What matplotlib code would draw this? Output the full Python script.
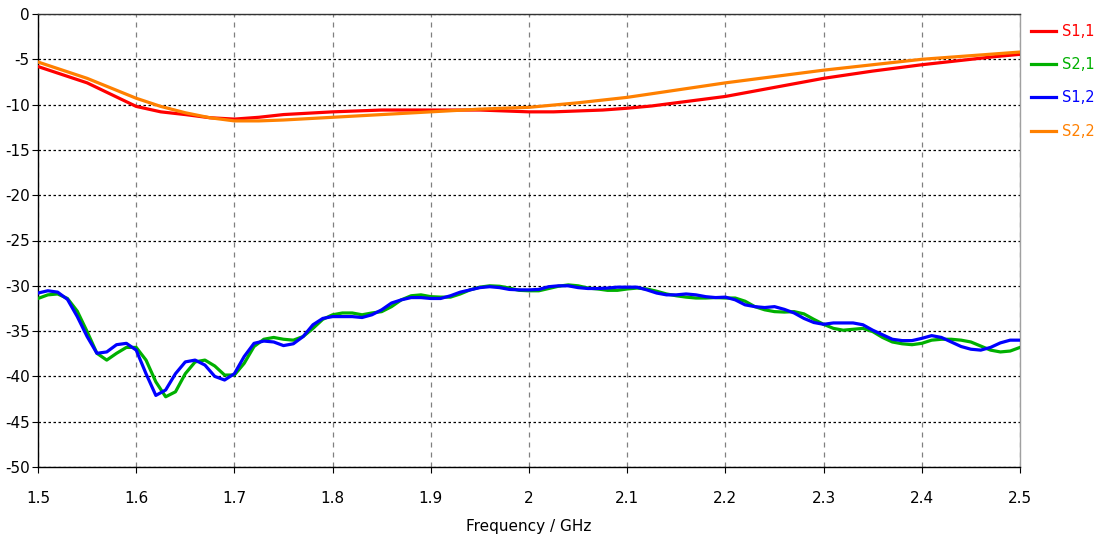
import numpy as np
import matplotlib
matplotlib.use("Agg")
import matplotlib.pyplot as plt
from matplotlib.lines import Line2D

# ---- data ----
f_coarse = [1.500, 1.525, 1.550, 1.575, 1.600, 1.625, 1.650, 1.675, 1.700, 1.725,
            1.750, 1.775, 1.800, 1.825, 1.850, 1.875, 1.900, 1.925, 1.950, 1.975,
            2.000, 2.025, 2.050, 2.075, 2.100, 2.125, 2.150, 2.175, 2.200, 2.225,
            2.250, 2.275, 2.300, 2.325, 2.350, 2.375, 2.400, 2.425, 2.450, 2.475,
            2.500]
s11 = [-5.8, -6.7, -7.6, -8.9, -10.2, -10.8, -11.1, -11.45, -11.6, -11.4,
       -11.1, -10.95, -10.8, -10.7, -10.6, -10.6, -10.6, -10.6, -10.6, -10.7,
       -10.8, -10.8, -10.7, -10.6, -10.4, -10.15, -9.8, -9.45, -9.1, -8.6,
       -8.1, -7.6, -7.1, -6.7, -6.3, -5.95, -5.6, -5.3, -5.0, -4.7,
       -4.45]
s22 = [-5.3, -6.2, -7.1, -8.2, -9.3, -10.2, -10.9, -11.45, -11.8, -11.8,
       -11.7, -11.55, -11.4, -11.25, -11.1, -10.95, -10.8, -10.65, -10.5, -10.4,
       -10.3, -10.05, -9.8, -9.5, -9.2, -8.8, -8.4, -8.0, -7.6, -7.25,
       -6.9, -6.55, -6.2, -5.9, -5.6, -5.3, -5.0, -4.8, -4.6, -4.4,
       -4.2]

f_fine = [round(1.5 + 0.01 * i, 2) for i in range(101)]
s21 = [-31.4, -31.0, -30.9, -31.4, -32.8, -35.05, -37.45, -38.2, -37.45, -36.8,
       -36.8, -38.2, -40.6, -42.25, -41.7, -39.7, -38.4, -38.2, -38.85, -39.85,
       -39.85, -38.55, -36.7, -35.9, -35.7, -35.9, -36.0, -35.6, -34.7, -33.7,
       -33.2, -33.0, -33.0, -33.2, -33.0, -32.85, -32.3, -31.55, -31.1, -31.0,
       -31.2, -31.25, -31.25, -30.9, -30.45, -30.15, -30.0, -30.05, -30.25, -30.5,
       -30.55, -30.55, -30.3, -30.05, -29.9, -30.0, -30.25, -30.35, -30.5, -30.5,
       -30.35, -30.25, -30.35, -30.6, -30.9, -31.1, -31.25, -31.35, -31.35, -31.3,
       -31.35, -31.35, -31.7, -32.3, -32.65, -32.85, -32.9, -32.85, -33.1, -33.7,
       -34.25, -34.7, -34.9, -34.8, -34.7, -35.05, -35.7, -36.2, -36.4, -36.5,
       -36.35, -36.0, -35.9, -35.9, -36.0, -36.2, -36.65, -37.1, -37.3, -37.2,
       -36.8]
s12 = [-30.8, -30.55, -30.7, -31.5, -33.4, -35.6, -37.45, -37.3, -36.5, -36.35,
       -37.1, -39.7, -42.1, -41.5, -39.7, -38.4, -38.2, -38.75, -40.0, -40.4,
       -39.7, -37.8, -36.35, -36.1, -36.2, -36.6, -36.4, -35.6, -34.3, -33.6,
       -33.4, -33.4, -33.4, -33.5, -33.2, -32.65, -31.9, -31.55, -31.3, -31.3,
       -31.4, -31.4, -31.1, -30.7, -30.45, -30.2, -30.1, -30.2, -30.4, -30.45,
       -30.45, -30.4, -30.1, -30.0, -30.0, -30.2, -30.3, -30.3, -30.25, -30.15,
       -30.15, -30.15, -30.45, -30.8, -31.0, -31.0, -30.9, -31.0, -31.2, -31.3,
       -31.25, -31.55, -32.1, -32.3, -32.4, -32.3, -32.6, -33.0, -33.6, -34.05,
       -34.25, -34.1, -34.1, -34.1, -34.3, -34.9, -35.4, -35.9, -36.05, -36.05,
       -35.8, -35.5, -35.7, -36.2, -36.7, -37.0, -37.1, -36.8, -36.3, -36.0,
       -36.0]

labels = ["S1,1", "S2,1", "S1,2", "S2,2"]
colors = ["#ff0000", "#00b000", "#0000ff", "#ff8000"]
xticks = [1.5, 1.6, 1.7, 1.8, 1.9, 2.0, 2.1, 2.2, 2.3, 2.4, 2.5]
xticklabels = ["1.5", "1.6", "1.7", "1.8", "1.9", "2", "2.1", "2.2", "2.3", "2.4", "2.5"]
yticks = [0, -5, -10, -15, -20, -25, -30, -35, -40, -45, -50]

plt.rcParams['font.family'] = ['DejaVu Sans']

fig = plt.figure(figsize=(10.98, 5.42), dpi=100)
ax = fig.add_axes([38 / 1098, 1 - 467 / 542, (1020 - 38) / 1098, (467 - 14) / 542])

lw = 2.3
ax.plot(f_coarse, s11, color=colors[0], lw=lw, zorder=3)
ax.plot(f_fine, s21, color=colors[1], lw=lw, zorder=3)
ax.plot(f_fine, s12, color=colors[2], lw=lw, zorder=4)
ax.plot(f_coarse, s22, color=colors[3], lw=lw, zorder=3)

ax.set_xlim(1.5, 2.5)
ax.set_ylim(-50, 0)
ax.set_xticks(xticks)
ax.set_xticklabels(xticklabels)
ax.set_yticks(yticks)
ax.set_yticklabels([str(v) for v in yticks])
ax.tick_params(axis='both', labelsize=11, length=4, width=0.8, color='black')
ax.tick_params(axis='x', pad=13)
ax.tick_params(axis='y', pad=2)

ax.xaxis.grid(True, linestyle=(0, (4, 4)), color='#808080', lw=0.9)
ax.yaxis.grid(True, linestyle=(0, (2, 2)), color='#000000', lw=0.9)
ax.set_axisbelow(True)

ax.spines['left'].set_color('black')
ax.spines['bottom'].set_color('black')
ax.spines['top'].set_color('#333333')
ax.spines['right'].set_color('#a0a0a0')
for sp in ax.spines.values():
    sp.set_linewidth(1.0)

ax.set_xlabel("Frequency / GHz", fontsize=11, labelpad=10)

handles = [Line2D([0], [0], color=c, lw=lw) for c in colors]
fig.legend(handles, labels, loc='upper left', bbox_to_anchor=(1031 / 1098, 1 - 24 / 542),
           frameon=False, labelcolor=colors, fontsize=10.5, handlelength=1.7,
           handletextpad=0.4, labelspacing=1.25, borderaxespad=0, borderpad=0)

fig.savefig("out.png", dpi=100)
